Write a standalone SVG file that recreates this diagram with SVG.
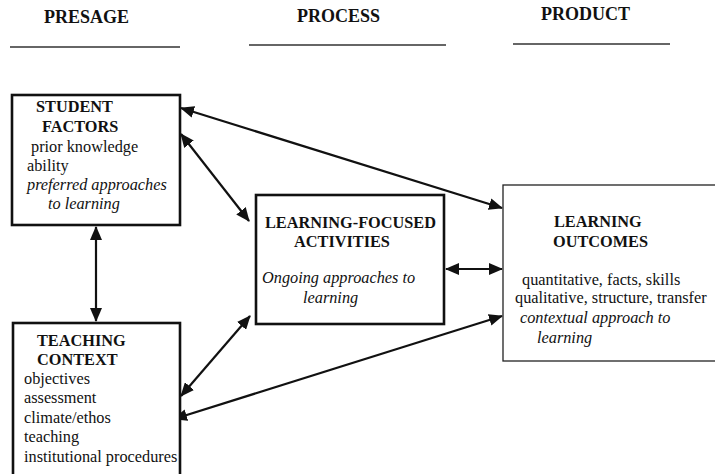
<svg xmlns="http://www.w3.org/2000/svg" width="715" height="474" viewBox="0 0 715 474">
<style>
text{font-family:"Liberation Serif","Times New Roman",serif;font-size:16.3px;fill:#111}
.b{font-weight:bold}
.i{font-style:italic}
.h{font-weight:bold;font-size:18px}
.box{fill:#fff;stroke:#111;stroke-width:2.6}
.thin{fill:#fff;stroke:#222;stroke-width:1.3}
.rule{stroke:#333;stroke-width:1.3}
.c{stroke:#111;stroke-width:2.2;fill:none;marker-start:url(#ah);marker-end:url(#ah)}
</style>
<defs>
<marker id="ah" viewBox="0 0 14 12" refX="13" refY="6" markerWidth="14" markerHeight="12" markerUnits="userSpaceOnUse" orient="auto-start-reverse">
<path d="M0,0 L14,6 L0,12 Z" fill="#111"/>
</marker>
</defs>
<rect width="715" height="474" fill="#fff"/>
<g id="headers">
<text class="h" x="44" y="23">PRESAGE</text>
<text class="h" x="297" y="22">PROCESS</text>
<text class="h" x="541" y="20">PRODUCT</text>
<line class="rule" x1="10" y1="47" x2="180" y2="47"/>
<line class="rule" x1="249" y1="45" x2="446" y2="45"/>
<line class="rule" x1="513" y1="44" x2="670" y2="44"/>
</g>
<g id="connectors">
<line class="c" x1="181" y1="108" x2="502" y2="208"/>
<line class="c" x1="181" y1="134" x2="249" y2="221"/>
<line class="c" x1="96" y1="227" x2="96" y2="321"/>
<line class="c" x1="181" y1="396" x2="250" y2="316"/>
<line class="c" x1="174" y1="419" x2="502" y2="316"/>
<line class="c" x1="446" y1="269" x2="502" y2="269"/>
</g>
<g id="student-factors">
<rect class="box" x="12" y="95" width="168" height="130"/>
<text class="b" x="36" y="112">STUDENT</text>
<text class="b" x="42" y="132">FACTORS</text>
<text x="31" y="152">prior knowledge</text>
<text x="27" y="171">ability</text>
<text class="i" x="27" y="190">preferred approaches</text>
<text class="i" x="48" y="209">to learning</text>
</g>
<g id="teaching-context">
<rect class="box" x="13" y="323" width="167" height="160"/>
<text class="b" x="37" y="346">TEACHING</text>
<text class="b" x="37" y="365">CONTEXT</text>
<text x="24" y="384">objectives</text>
<text x="24" y="403">assessment</text>
<text x="24" y="423">climate/ethos</text>
<text x="24" y="442">teaching</text>
<text x="24" y="462">institutional procedures</text>
</g>
<g id="learning-focused-activities">
<rect class="box" x="256" y="195" width="188" height="129"/>
<text class="b" x="265" y="228">LEARNING-FOCUSED</text>
<text class="b" x="294" y="247">ACTIVITIES</text>
<text class="i" x="262" y="283">Ongoing approaches to</text>
<text class="i" x="303" y="303">learning</text>
</g>
<g id="learning-outcomes">
<rect class="thin" x="503" y="185" width="230" height="176"/>
<text class="b" x="554" y="227">LEARNING</text>
<text class="b" x="553" y="247">OUTCOMES</text>
<text x="522" y="285">quantitative, facts, skills</text>
<text x="515" y="303">qualitative, structure, transfer</text>
<text class="i" x="520" y="323">contextual approach to</text>
<text class="i" x="537" y="343">learning</text>
</g>
</svg>
